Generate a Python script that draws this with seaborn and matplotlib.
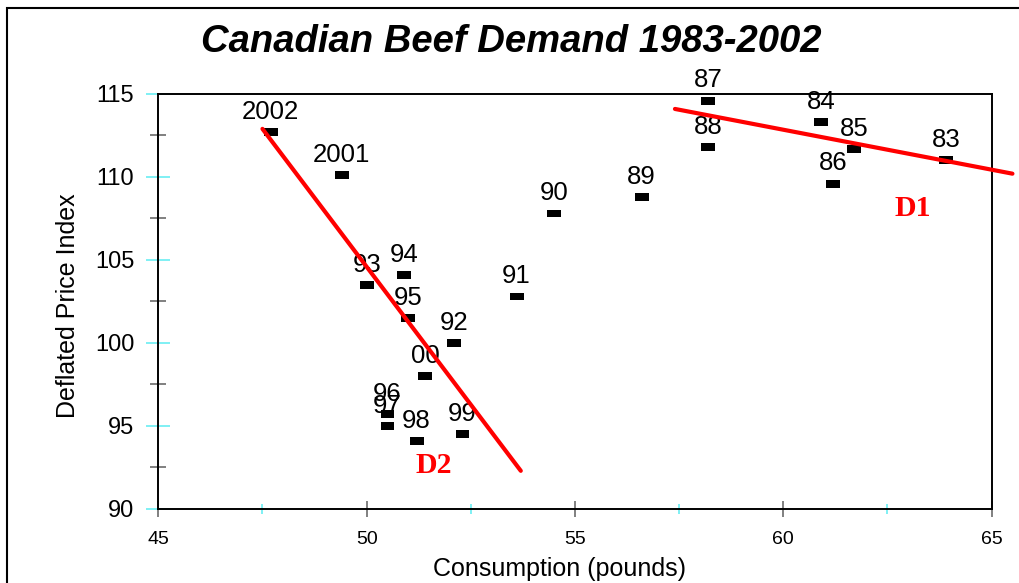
import matplotlib
matplotlib.use("Agg")
import matplotlib.pyplot as plt
from matplotlib.path import Path
from matplotlib.patches import Rectangle
from matplotlib.ticker import MultipleLocator
import seaborn as sns
import pandas as pd

# data
years = ["83", "84", "85", "86", "87", "88", "89", "90", "91", "92",
         "93", "94", "95", "96", "97", "98", "99", "00", "2001", "2002"]
consumption = [63.9, 60.9, 61.7, 61.2, 58.2, 58.2, 56.6, 54.5, 53.6, 52.1,
               50.0, 50.9, 51.0, 50.5, 50.5, 51.2, 52.3, 51.4, 49.4, 47.7]
price = [111.0, 113.3, 111.7, 109.6, 114.6, 111.8, 108.8, 107.8, 102.8, 100.0,
         103.5, 104.1, 101.5, 95.7, 95.0, 94.1, 94.5, 98.0, 110.1, 112.7]

# hand-drawn demand curves
d1_x = [57.4, 65.5]
d1_y = [114.1, 110.2]
d2_x = [47.5, 53.7]
d2_y = [112.9, 92.3]

df = pd.DataFrame({"year": years, "cons": consumption, "price": price})

sns.set_style("white")
plt.rcParams["font.family"] = ["Liberation Sans", "DejaVu Sans"]
plt.rcParams["text.color"] = "black"
plt.rcParams["axes.labelcolor"] = "black"

fig = plt.figure(figsize=(10.19, 5.83), dpi=100)
ax = fig.add_axes([158.3 / 1019, 74 / 583, 833.3 / 1019, 415 / 583])

# small flat rectangles as markers
rect = Path([(-1, -0.57), (1, -0.57), (1, 0.57), (-1, 0.57), (-1, -0.57)],
            [Path.MOVETO, Path.LINETO, Path.LINETO, Path.LINETO, Path.CLOSEPOLY])
sns.scatterplot(data=df, x="cons", y="price", marker=rect, s=100,
                color="black", edgecolor="none", linewidth=0, ax=ax,
                zorder=3, clip_on=False)

for _, r in df.iterrows():
    ax.annotate(r["year"], (r["cons"], r["price"]), xytext=(0, 9.5),
                textcoords="offset points", ha="center", va="baseline",
                fontsize=18.5, color="black", annotation_clip=False, zorder=4)

sns.lineplot(x=d1_x, y=d1_y, color="red", lw=3, ax=ax, clip_on=False, zorder=5)
sns.lineplot(x=d2_x, y=d2_y, color="red", lw=3, ax=ax, clip_on=False, zorder=5)
ax.text(63.1, 108.1, "D1", color="red", fontsize=21.5, fontweight="bold",
        family=["Liberation Serif"], ha="center", va="center")
ax.text(51.6, 92.65, "D2", color="red", fontsize=21.5, fontweight="bold",
        family=["Liberation Serif"], ha="center", va="center")

ax.set_xlim(45, 65)
ax.set_ylim(90, 115)
ax.xaxis.set_major_locator(MultipleLocator(5))
ax.xaxis.set_minor_locator(MultipleLocator(2.5))
ax.yaxis.set_major_locator(MultipleLocator(5))
ax.yaxis.set_minor_locator(MultipleLocator(2.5))

cyan = "#7ff0f4"
grey = "#808080"
ax.tick_params(axis="y", which="major", direction="inout", length=17.3,
               width=1.4, color=cyan, labelcolor="black", labelsize=17,
               pad=8.6, left=True)
ax.tick_params(axis="y", which="minor", direction="inout", length=11.5,
               width=1.4, color=grey, left=True)
ax.tick_params(axis="x", which="major", direction="inout", length=11,
               width=1.4, color=grey, labelcolor="black", labelsize=14,
               pad=10.3, bottom=True)
ax.tick_params(axis="x", which="minor", direction="inout", length=6.5,
               width=1.4, color=cyan, bottom=True)

for s in ax.spines.values():
    s.set_visible(True)
    s.set_color("black")
    s.set_linewidth(1.4)

ax.set_xlabel("Consumption (pounds)", fontsize=18)
ax.set_ylabel("Deflated Price Index", fontsize=18)
ax.xaxis.set_label_coords(0.482, -0.145)
ax.xaxis.label.set_verticalalignment("center")
ax.yaxis.set_label_coords(-0.108, 0.489)
ax.yaxis.label.set_verticalalignment("center")

fig.text(511 / 1019, 1 - 42 / 583, "Canadian Beef Demand 1983-2002",
         fontsize=27.5, fontweight="bold", style="italic", color="black",
         ha="center", va="center")

# outer frame of the chart object
fig.add_artist(Rectangle((7 / 1019, -0.5), 2, 1.5 - 8 / 583,
                         transform=fig.transFigure, fill=False,
                         ec="black", lw=1.5))

fig.savefig("out.png", dpi=100)
